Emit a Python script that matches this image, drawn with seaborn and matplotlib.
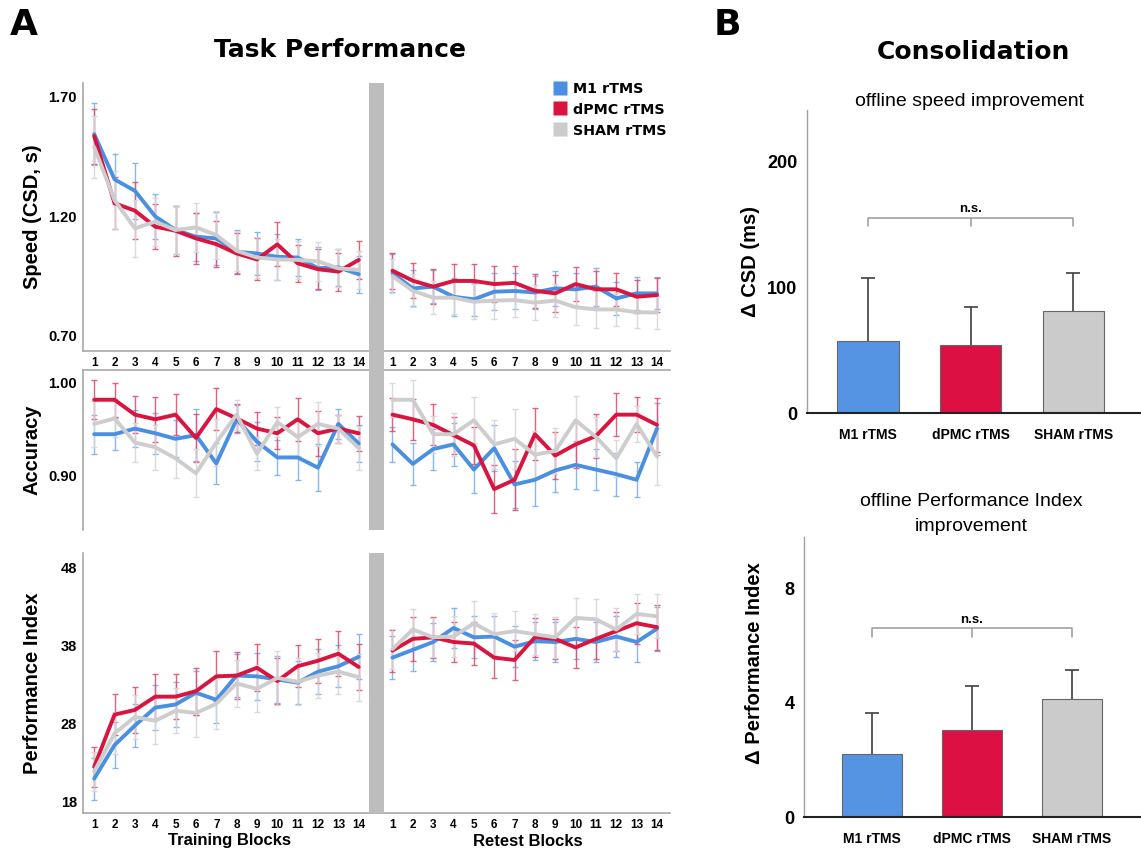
import numpy as np
import pandas as pd
import matplotlib
matplotlib.use("Agg")
import matplotlib.pyplot as plt
import matplotlib.transforms as mtransforms
from matplotlib.patches import Rectangle
from matplotlib.lines import Line2D
import seaborn as sns

sns.set_theme(style="white")
plt.rcParams['font.family'] = ['Liberation Sans', 'DejaVu Sans']
plt.rcParams['text.color'] = 'black'
plt.rcParams['axes.labelcolor'] = 'black'
plt.rcParams['xtick.color'] = 'black'
plt.rcParams['ytick.color'] = 'black'

# ---------------- data ----------------
groups = ["M1 rTMS", "dPMC rTMS", "SHAM rTMS"]
blocks = list(range(1, 15))
block_labels = [str(b) for b in blocks]

# Speed (CSD, s)
speed_train_m1 = [1.544, 1.355, 1.307, 1.200, 1.143, 1.115, 1.108, 1.052, 1.045, 1.031, 1.028, 0.983, 0.987, 0.958]
speed_train_dpmc = [1.536, 1.255, 1.224, 1.157, 1.140, 1.108, 1.084, 1.045, 1.020, 1.083, 1.004, 0.979, 0.969, 1.018]
speed_train_sham = [1.490, 1.268, 1.150, 1.178, 1.143, 1.154, 1.122, 1.056, 1.028, 1.020, 1.018, 1.012, 0.983, 0.976]
speed_train_m1_err = [0.13, 0.104, 0.117, 0.095, 0.10, 0.10, 0.11, 0.09, 0.09, 0.097, 0.078, 0.09, 0.078, 0.077]
speed_train_dpmc_err = [0.115, 0.108, 0.12, 0.095, 0.105, 0.107, 0.095, 0.084, 0.088, 0.092, 0.077, 0.084, 0.08, 0.08]
speed_train_sham_err = [0.13, 0.12, 0.118, 0.10, 0.10, 0.103, 0.10, 0.085, 0.085, 0.085, 0.08, 0.082, 0.08, 0.08]
speed_retest_m1 = [0.962, 0.899, 0.906, 0.864, 0.853, 0.885, 0.888, 0.882, 0.899, 0.895, 0.906, 0.857, 0.878, 0.878]
speed_retest_dpmc = [0.973, 0.931, 0.906, 0.930, 0.930, 0.917, 0.922, 0.889, 0.878, 0.917, 0.895, 0.895, 0.864, 0.871]
speed_retest_sham = [0.950, 0.889, 0.860, 0.860, 0.843, 0.848, 0.850, 0.839, 0.848, 0.820, 0.811, 0.811, 0.799, 0.798]
speed_retest_m1_err = [0.08, 0.075, 0.07, 0.08, 0.07, 0.077, 0.074, 0.07, 0.074, 0.07, 0.08, 0.07, 0.07, 0.067]
speed_retest_dpmc_err = [0.075, 0.072, 0.072, 0.071, 0.071, 0.077, 0.071, 0.072, 0.077, 0.072, 0.077, 0.07, 0.07, 0.07]
speed_retest_sham_err = [0.072, 0.07, 0.068, 0.07, 0.074, 0.078, 0.072, 0.072, 0.07, 0.074, 0.079, 0.07, 0.067, 0.07]

# Accuracy
acc_train_m1 = [0.944, 0.944, 0.950, 0.945, 0.939, 0.943, 0.9125, 0.960, 0.936, 0.919, 0.919, 0.908, 0.955, 0.934]
acc_train_dpmc = [0.981, 0.981, 0.965, 0.960, 0.965, 0.940, 0.971, 0.961, 0.950, 0.945, 0.960, 0.945, 0.950, 0.945]
acc_train_sham = [0.955, 0.961, 0.935, 0.930, 0.918, 0.902, 0.935, 0.965, 0.923, 0.957, 0.941, 0.955, 0.950, 0.929]
acc_train_m1_err = [0.021, 0.017, 0.02, 0.022, 0.02, 0.028, 0.022, 0.015, 0.021, 0.019, 0.024, 0.025, 0.016, 0.02]
acc_train_dpmc_err = [0.021, 0.018, 0.02, 0.024, 0.022, 0.026, 0.023, 0.015, 0.018, 0.017, 0.023, 0.024, 0.015, 0.019]
acc_train_sham_err = [0.025, 0.02, 0.021, 0.024, 0.021, 0.026, 0.025, 0.016, 0.018, 0.016, 0.02, 0.024, 0.015, 0.024]
acc_retest_m1 = [0.933, 0.912, 0.928, 0.933, 0.906, 0.929, 0.890, 0.895, 0.905, 0.911, 0.906, 0.901, 0.895, 0.950]
acc_retest_dpmc = [0.965, 0.960, 0.954, 0.943, 0.932, 0.885, 0.895, 0.944, 0.921, 0.933, 0.942, 0.965, 0.965, 0.954]
acc_retest_sham = [0.981, 0.981, 0.944, 0.944, 0.959, 0.933, 0.939, 0.922, 0.926, 0.959, 0.941, 0.918, 0.955, 0.920]
acc_retest_m1_err = [0.019, 0.023, 0.022, 0.023, 0.025, 0.025, 0.025, 0.028, 0.023, 0.026, 0.022, 0.023, 0.019, 0.028]
acc_retest_dpmc_err = [0.018, 0.022, 0.022, 0.02, 0.02, 0.026, 0.033, 0.028, 0.025, 0.025, 0.024, 0.023, 0.019, 0.029]
acc_retest_sham_err = [0.018, 0.021, 0.02, 0.023, 0.025, 0.026, 0.032, 0.025, 0.025, 0.026, 0.022, 0.02, 0.019, 0.031]

# Performance Index
pi_train_m1 = [20.9, 25.2, 27.7, 30.0, 30.4, 31.9, 31.0, 34.1, 34.0, 33.6, 33.2, 34.6, 35.3, 36.5]
pi_train_dpmc = [22.4, 29.1, 29.7, 31.4, 31.4, 32.1, 34.0, 34.1, 35.1, 33.4, 35.3, 36.0, 36.9, 35.2]
pi_train_sham = [21.8, 26.7, 28.8, 28.3, 29.6, 29.3, 30.5, 33.1, 32.4, 33.8, 33.3, 34.1, 34.6, 33.9]
pi_train_m1_err = [2.7, 3.0, 2.8, 2.9, 2.9, 2.8, 3.0, 2.8, 3.0, 3.0, 2.8, 2.9, 2.7, 2.9]
pi_train_dpmc_err = [2.6, 2.6, 2.9, 2.9, 2.9, 3.0, 3.2, 3.0, 3.0, 3.0, 2.7, 2.8, 2.9, 3.0]
pi_train_sham_err = [2.5, 2.7, 2.8, 2.9, 2.9, 3.1, 3.2, 3.0, 3.0, 3.5, 3.0, 2.9, 2.9, 3.0]
pi_retest_m1 = [36.4, 37.4, 38.4, 40.2, 39.0, 39.1, 37.8, 38.5, 38.4, 38.8, 38.4, 39.1, 38.4, 40.1]
pi_retest_dpmc = [37.3, 38.8, 39.0, 38.4, 38.2, 36.4, 36.1, 39.0, 38.8, 37.7, 38.8, 39.8, 40.8, 40.3]
pi_retest_sham = [37.5, 40.0, 39.0, 39.1, 40.8, 39.4, 39.8, 39.4, 39.0, 41.5, 41.3, 40.0, 42.0, 41.7]
pi_retest_m1_err = [2.8, 2.7, 2.4, 2.6, 2.7, 2.6, 2.6, 2.4, 2.5, 2.6, 2.5, 2.6, 2.6, 2.8]
pi_retest_dpmc_err = [2.7, 2.8, 2.6, 2.6, 2.8, 2.6, 2.6, 2.5, 2.6, 2.6, 2.6, 2.5, 2.6, 2.9]
pi_retest_sham_err = [2.6, 2.6, 2.5, 2.6, 2.8, 2.7, 2.6, 2.6, 2.6, 2.6, 2.6, 2.7, 2.6, 2.8]

# Consolidation
csd_gain = [57, 54, 81]
csd_gain_err = [50, 30, 30]
pi_gain = [2.19, 3.04, 4.13]
pi_gain_err = [1.44, 1.55, 1.01]

# ---------------- style ----------------
line_colors = {"M1 rTMS": "#4A90E2", "dPMC rTMS": "#D9143F", "SHAM rTMS": "#CDCDCD"}
err_colors = {"M1 rTMS": "#7BB0EE", "dPMC rTMS": "#E0506F", "SHAM rTMS": "#D6D6D6"}
bar_colors = {"M1 rTMS": "#5594E3", "dPMC rTMS": "#DC1043", "SHAM rTMS": "#CBCBCB"}
RETEST_OFFSET = 14.66
BOLD = dict(fontweight="bold")

W, H = 1141, 849
fig = plt.figure(figsize=(W / 100, H / 100), dpi=100)


def fx(px):
    return px / W


def fy(py):
    return 1 - py / H


def axes_px(l, t, r, b):
    return fig.add_axes([fx(l), fy(b), fx(r - l), (b - t) / H])


def build_df(train, retest):
    rows = []
    for g, (tm, te), (rm, re_) in zip(groups, train, retest):
        for b, m, e in zip(blocks, tm, te):
            rows.append(dict(group=g, phase="train", pos=b, value=m, err=e))
        for b, m, e in zip(blocks, rm, re_):
            rows.append(dict(group=g, phase="retest", pos=b + RETEST_OFFSET, value=m, err=e))
    return pd.DataFrame(rows)


speed_df = build_df(
    [(speed_train_m1, speed_train_m1_err), (speed_train_dpmc, speed_train_dpmc_err), (speed_train_sham, speed_train_sham_err)],
    [(speed_retest_m1, speed_retest_m1_err), (speed_retest_dpmc, speed_retest_dpmc_err), (speed_retest_sham, speed_retest_sham_err)])
acc_df = build_df(
    [(acc_train_m1, acc_train_m1_err), (acc_train_dpmc, acc_train_dpmc_err), (acc_train_sham, acc_train_sham_err)],
    [(acc_retest_m1, acc_retest_m1_err), (acc_retest_dpmc, acc_retest_dpmc_err), (acc_retest_sham, acc_retest_sham_err)])
pi_df = build_df(
    [(pi_train_m1, pi_train_m1_err), (pi_train_dpmc, pi_train_dpmc_err), (pi_train_sham, pi_train_sham_err)],
    [(pi_retest_m1, pi_retest_m1_err), (pi_retest_dpmc, pi_retest_dpmc_err), (pi_retest_sham, pi_retest_sham_err)])

ax_sp = axes_px(83, 83, 670, 351)
ax_ac = axes_px(83, 370, 670, 530)
ax_pi = axes_px(83, 553, 670, 813)

xpos = blocks + [b + RETEST_OFFSET for b in blocks]
xlab = block_labels + block_labels


def draw_lines(ax, df):
    for g in groups:
        for ph in ["train", "retest"]:
            d = df[(df.group == g) & (df.phase == ph)]
            ax.errorbar(d.pos, d.value, yerr=d.err, fmt="none", ecolor=err_colors[g],
                        elinewidth=1.0, capsize=2.2, capthick=1.0, zorder=2, alpha=0.9)
    for ph in ["train", "retest"]:
        d = df[df.phase == ph]
        sns.lineplot(data=d, x="pos", y="value", hue="group", hue_order=groups,
                     palette=line_colors, estimator=None, linewidth=2.8,
                     legend=False, ax=ax, zorder=3)
    ax.set_xlim(0.45, 29.3)
    ax.set_xlabel("")
    ax.set_xticks(xpos)
    for s in ax.spines.values():
        s.set_color("#A8A8A8")
        s.set_linewidth(1.2)
    ax.tick_params(axis="both", length=0)
    ax.tick_params(axis="y", pad=4.3, labelsize=10.5)
    ax.tick_params(axis="x", pad=4, labelsize=8.5)


draw_lines(ax_sp, speed_df)
ax_sp.set_ylim(0.637, 1.758)
ax_sp.set_yticks([0.70, 1.20, 1.70])
ax_sp.set_yticklabels(["0.70", "1.20", "1.70"], fontweight="bold")
ax_sp.set_xticklabels(xlab, fontweight="bold")
ax_sp.spines["top"].set_visible(False)
ax_sp.spines["right"].set_visible(False)
ax_sp.set_ylabel("Speed (CSD, s)", fontsize=14.5, **BOLD)
ax_sp.yaxis.set_label_coords(-0.070, 0.5)

draw_lines(ax_ac, acc_df)
ax_ac.set_ylim(0.841, 1.013)
ax_ac.set_yticks([0.90, 1.00])
ax_ac.set_yticklabels(["0.90", "1.00"], fontweight="bold")
ax_ac.set_xticklabels([])
ax_ac.spines["bottom"].set_visible(False)
ax_ac.spines["right"].set_visible(False)
ax_ac.set_ylabel("Accuracy", fontsize=14.5, **BOLD)
ax_ac.yaxis.set_label_coords(-0.070, 0.5)

draw_lines(ax_pi, pi_df)
ax_pi.set_ylim(16.5, 49.8)
ax_pi.set_yticks([18, 28, 38, 48])
ax_pi.set_yticklabels(["18", "28", "38", "48"], fontweight="bold")
ax_pi.set_xticklabels(xlab, fontweight="bold")
ax_pi.spines["top"].set_visible(False)
ax_pi.spines["right"].set_visible(False)
ax_pi.set_ylabel("Performance Index", fontsize=14.5, **BOLD)
ax_pi.yaxis.set_label_coords(-0.070, 0.5)

# grey separator between training and retest
blend = mtransforms.blended_transform_factory(ax_sp.transData, fig.transFigure)
for top, bot in [(83, 530), (553, 813)]:
    fig.add_artist(Rectangle((14.51, fy(bot)), 0.74, (bot - top) / H, transform=blend,
                             facecolor="#BDBDBD", edgecolor="none", zorder=5))

fig.text(fx(229), fy(841), "Training Blocks", ha="center", va="center", fontsize=12, **BOLD)
fig.text(fx(528), fy(842), "Retest Blocks", ha="center", va="center", fontsize=12, **BOLD)

handles = [Line2D([0], [0], marker="s", linestyle="none", markersize=10.2,
                  markerfacecolor=line_colors[g], markeredgecolor="none") for g in groups]
handles[2].set_markerfacecolor("#CCCCCC")
leg = ax_sp.legend(handles, groups, loc="upper left", bbox_to_anchor=(fx(553), fy(82)),
                   bbox_transform=fig.transFigure, frameon=False, borderpad=0,
                   borderaxespad=0, handlelength=1.0, handleheight=1.0,
                   handletextpad=0.4, labelspacing=0.45,
                   prop=dict(family="DejaVu Sans", weight="bold", size=10.3))

# ---------------- panel B ----------------
def bar_panel(ax, vals, errs, ylim, yticks, bracket, ylabel):
    sns.barplot(x=groups, y=vals, hue=groups, palette=bar_colors, order=groups,
                hue_order=groups, width=0.6, edgecolor="#666666", linewidth=0.8,
                saturation=1, legend=False, ax=ax, zorder=2)
    eb = ax.errorbar(range(3), vals, yerr=[[0, 0, 0], errs], fmt="none", ecolor="#404040",
                     elinewidth=1.2, capsize=4.7, capthick=1.2, zorder=3)
    eb[1][0].set_visible(False)
    ax.set_ylim(*ylim)
    ax.set_yticks(yticks)
    ax.set_yticklabels([str(t) for t in yticks], fontweight="bold")
    ax.set_xticks(range(3))
    ax.set_xticklabels(groups, fontweight="bold")
    ax.tick_params(axis="both", length=0)
    ax.tick_params(axis="y", pad=7, labelsize=13)
    ax.tick_params(axis="x", pad=11, labelsize=10)
    ax.spines["top"].set_visible(False)
    ax.spines["right"].set_visible(False)
    ax.spines["left"].set_color("#A0A0A0")
    ax.spines["left"].set_linewidth(1.0)
    ax.spines["bottom"].set_color("#222222")
    ax.spines["bottom"].set_linewidth(1.5)
    hi, lo, txt = bracket
    ax.plot([0, 0, 2, 2], [lo, hi, hi, lo], color="#9A9A9A", lw=1.1, zorder=4)
    ax.plot([1, 1], [hi, lo], color="#9A9A9A", lw=1.1, zorder=4)
    ax.text(1, txt, "n.s.", ha="center", va="center", fontsize=9.5, **BOLD)
    ax.set_ylabel(ylabel, fontsize=14.5, **BOLD)
    ax.set_xlabel("")
    return ax


ax_b1 = axes_px(807, 110, 1140, 413)
bar_panel(ax_b1, csd_gain, csd_gain_err, (0, 241), [0, 100, 200], (155, 148.5, 162),
          "\u0394 CSD (ms)")
ax_b1.set_xlim(-0.595, 2.65)
ax_b1.yaxis.set_label_coords(-0.141, 0.5)

ax_b2 = axes_px(804, 537, 1140, 817)
bar_panel(ax_b2, pi_gain, pi_gain_err, (0, 9.8), [0, 4, 8], (6.6, 6.3, 6.9),
          "\u0394 Performance Index")
ax_b2.set_xlim(-0.675, 2.685)
ax_b2.yaxis.set_label_coords(-0.119, 0.55)

fig.text(fx(970), fy(102), "offline speed improvement", ha="center", va="center", fontsize=14)
fig.text(fx(971), fy(514), "offline Performance Index\nimprovement", ha="center", va="center",
         fontsize=14, linespacing=1.55)

# titles and panel letters
fig.text(fx(340), fy(50), "Task Performance", ha="center", va="center", fontsize=18,
         family="DejaVu Sans", fontweight="bold")
fig.text(fx(973), fy(52), "Consolidation", ha="center", va="center", fontsize=18,
         family="DejaVu Sans", fontweight="bold")
fig.text(fx(24), fy(25), "A", ha="center", va="center", fontsize=26, family="DejaVu Sans", fontweight="bold")
fig.text(fx(727), fy(25), "B", ha="center", va="center", fontsize=26, family="DejaVu Sans", fontweight="bold")

fig.savefig("out.png", dpi=100, facecolor="white")
